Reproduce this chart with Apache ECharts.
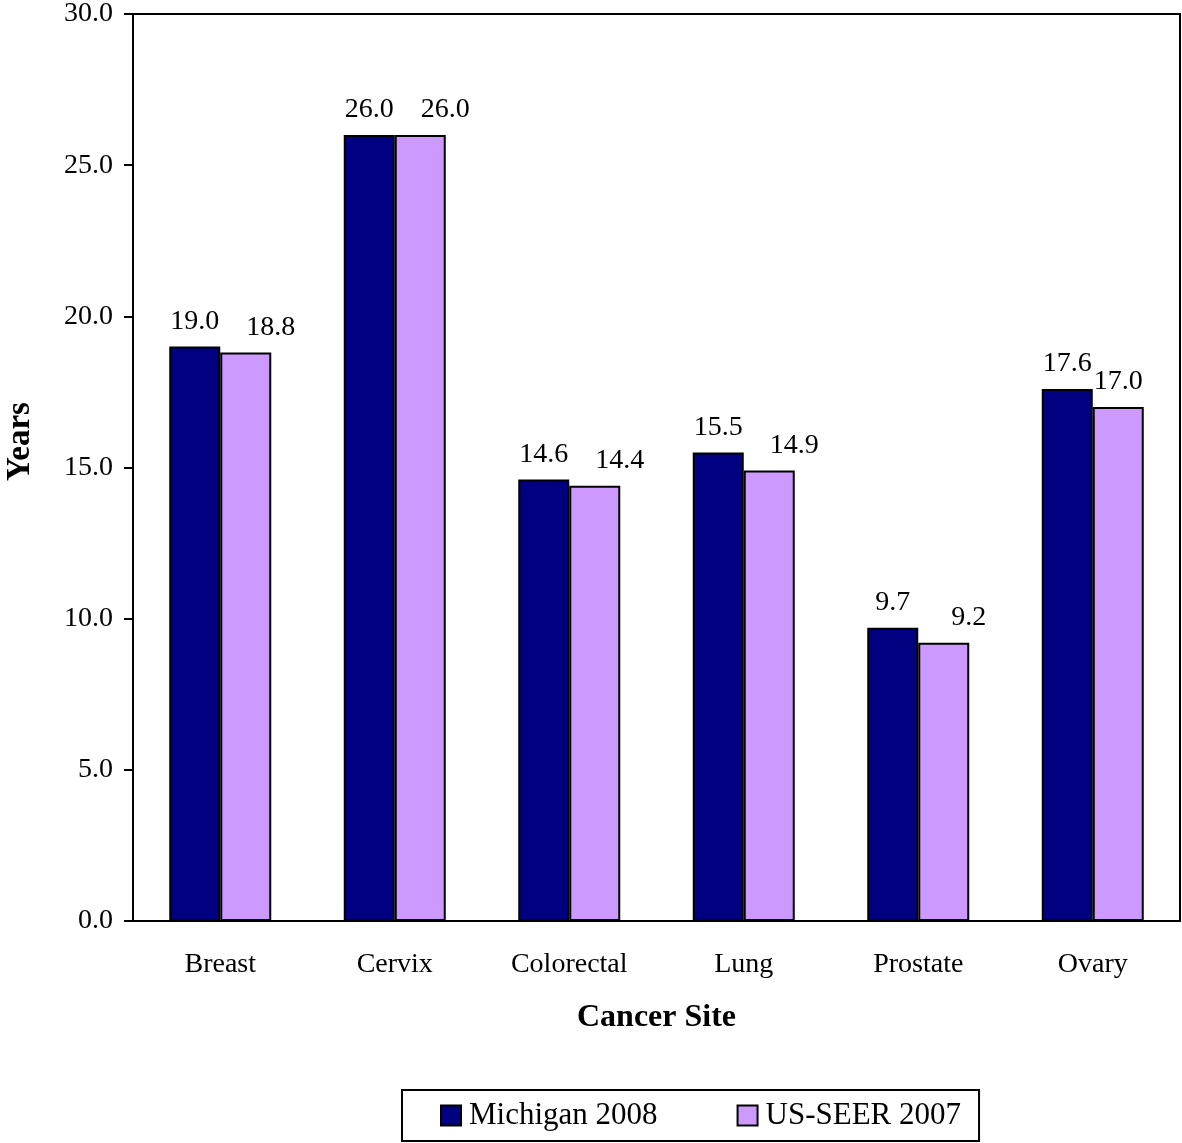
<!DOCTYPE html>
<html>
<head>
<meta charset="utf-8">
<style>
  html, body { margin: 0; padding: 0; background: #fff; }
  #chart { width: 1182px; height: 1143px; }
</style>
<script src="https://cdn.jsdelivr.net/npm/echarts@6/dist/echarts.min.js"></script>
</head>
<body>
<div id="chart"></div>
<script>
// Median years of life lost, by cancer site
const sites = ['Breast', 'Cervix', 'Colorectal', 'Lung', 'Prostate', 'Ovary'];
const michigan2008 = [19.0, 26.0, 14.6, 15.5, 9.7, 17.6];
const usSeer2007 = [18.8, 26.0, 14.4, 14.9, 9.2, 17.0];
const seriesNames = ['Michigan 2008', 'US-SEER 2007'];

const FONT = '"Liberation Serif", "Times New Roman", serif';

const chart = echarts.init(document.getElementById('chart'));

function valueLabel() {
  return {
    show: true,
    position: 'top',
    distance: 11,
    fontFamily: FONT,
    fontSize: 28,
    color: '#000',
    formatter: p => p.value.toFixed(1)
  };
}

// second-series labels sit a little to the right of their bars,
// except at the last category where there is no room
const seerData = usSeer2007.map((v, i) => ({
  value: v,
  label: { offset: [i === sites.length - 1 ? 0 : 25, 0] }
}));

chart.setOption({
  animation: false,
  backgroundColor: '#fff',
  grid: {
    left: 133, top: 14, right: 2, bottom: 222,
    outerBoundsMode: 'none',
    containLabel: false,
    show: true, borderColor: '#000', borderWidth: 2, backgroundColor: 'transparent'
  },
  legend: {
    left: 402,
    bottom: 2,
    itemWidth: 20,
    itemHeight: 20,
    itemGap: 79,
    padding: [10, 18, 10, 38],
    borderColor: '#000',
    borderWidth: 2,
    icon: 'rect',
    textStyle: { fontFamily: FONT, fontSize: 31, color: '#000', padding: [0, 0, 0, 3] },
    data: seriesNames
  },
  xAxis: {
    type: 'category',
    data: sites,
    name: 'Cancer Site',
    nameLocation: 'middle',
    nameGap: 81,
    nameTextStyle: { fontFamily: FONT, fontSize: 32, fontWeight: 'bold', color: '#000' },
    axisLine: { lineStyle: { color: '#000', width: 2 } },
    axisTick: { show: false },
    axisLabel: { fontFamily: FONT, fontSize: 28, color: '#000', margin: 30 }
  },
  yAxis: {
    type: 'value',
    min: 0, max: 30, interval: 5,
    name: 'Years',
    nameLocation: 'middle',
    nameGap: 96,
    nameTextStyle: {
      fontFamily: FONT, fontSize: 33, fontWeight: 'bold', color: '#000',
      padding: [0, 0, 0, 52]
    },
    axisLine: { show: true, lineStyle: { color: '#000', width: 2 } },
    axisTick: { show: true, inside: false, length: 9, lineStyle: { color: '#000', width: 2 } },
    splitLine: { show: false },
    axisLabel: {
      fontFamily: FONT, fontSize: 28, color: '#000', margin: 20,
      formatter: v => v.toFixed(1)
    }
  },
  series: [
    {
      name: seriesNames[0],
      type: 'bar',
      data: michigan2008,
      barWidth: 51,
      barGap: '0%',
      itemStyle: { color: '#000080', borderColor: '#000', borderWidth: 2 },
      label: valueLabel()
    },
    {
      name: seriesNames[1],
      type: 'bar',
      data: seerData,
      barWidth: 51,
      itemStyle: { color: '#CC99FF', borderColor: '#000', borderWidth: 2 },
      label: valueLabel()
    }
  ]
});
</script>
</body>
</html>
